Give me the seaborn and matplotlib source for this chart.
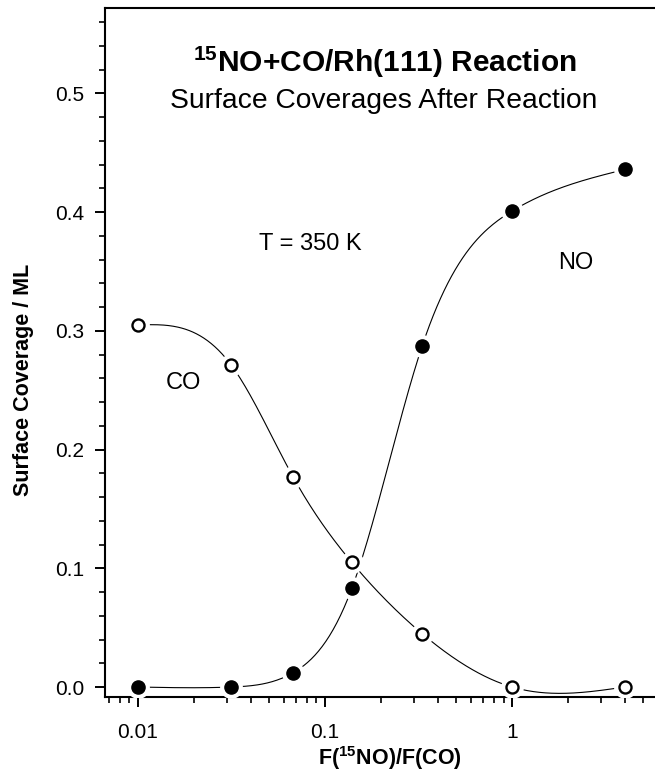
import numpy as np
import pandas as pd
import matplotlib
matplotlib.use("Agg")
import matplotlib.pyplot as plt
import seaborn as sns
from matplotlib.ticker import LogLocator, FixedLocator, MultipleLocator, NullFormatter

# ---- data ----
ratio = [0.01, 0.0316, 0.0675, 0.139, 0.33, 1.0, 4.0]
no_cov = [0.0, 0.0, 0.012, 0.083, 0.287, 0.401, 0.436]
co_cov = [0.305, 0.271, 0.177, 0.105, 0.045, 0.0, 0.0]
x_ticks = [0.01, 0.1, 1]
x_ticklabels = ["0.01", "0.1", "1"]
y_ticks = [0.0, 0.1, 0.2, 0.3, 0.4, 0.5]

sns.set_style("ticks")
plt.rcParams['font.family'] = ['Liberation Sans', 'DejaVu Sans']
plt.rcParams['mathtext.fontset'] = 'custom'
plt.rcParams['mathtext.rm'] = 'Liberation Sans'
plt.rcParams['mathtext.bf'] = 'Liberation Sans:bold'
for key in ['text.color', 'axes.labelcolor', 'xtick.color', 'ytick.color', 'axes.edgecolor']:
    plt.rcParams[key] = 'black'


def natural_spline(x, y, xs):
    x = np.asarray(x, float); y = np.asarray(y, float)
    n = len(x)
    h = np.diff(x)
    A = np.zeros((n, n)); b = np.zeros(n)
    A[0, 0] = 1; A[-1, -1] = 1
    for i in range(1, n - 1):
        A[i, i - 1] = h[i - 1]
        A[i, i] = 2 * (h[i - 1] + h[i])
        A[i, i + 1] = h[i]
        b[i] = 3 * ((y[i + 1] - y[i]) / h[i] - (y[i] - y[i - 1]) / h[i - 1])
    c = np.linalg.solve(A, b)
    out = np.empty_like(xs)
    for k, xv in enumerate(xs):
        i = min(max(np.searchsorted(x, xv) - 1, 0), n - 2)
        bi = (y[i + 1] - y[i]) / h[i] - h[i] * (2 * c[i] + c[i + 1]) / 3
        di = (c[i + 1] - c[i]) / (3 * h[i])
        t = xv - x[i]
        out[k] = y[i] + bi * t + c[i] * t ** 2 + di * t ** 3
    return out


lx = np.log10(ratio)
xs = np.linspace(lx[0], lx[-1], 400)
curve = pd.DataFrame({
    "x": np.concatenate([10 ** xs, 10 ** xs]),
    "y": np.concatenate([natural_spline(lx, no_cov, xs), natural_spline(lx, co_cov, xs)]),
    "s": ["NO"] * len(xs) + ["CO"] * len(xs),
})
pts = pd.DataFrame({"x": ratio + ratio, "y": no_cov + co_cov,
                    "s": ["NO"] * len(ratio) + ["CO"] * len(ratio)})

fig = plt.figure(figsize=(6.55, 7.78), dpi=100)
ax = fig.add_axes([105 / 655, 1 - 697 / 778, 1 - 105 / 655, (697 - 8) / 778])

sns.lineplot(data=curve, x="x", y="y", units="s", estimator=None, color="black",
             lw=0.8, ax=ax, zorder=2, legend=False)
# white halos producing gaps around the markers
ax.scatter(pts["x"], pts["y"], s=270, color="white", zorder=3, linewidths=0)
sns.scatterplot(data=pts[pts.s == "NO"], x="x", y="y", s=90, color="black",
                edgecolor="black", linewidth=1.0, ax=ax, zorder=4, legend=False)
sns.scatterplot(data=pts[pts.s == "CO"], x="x", y="y", s=75, color="white",
                edgecolor="black", linewidth=1.7, ax=ax, zorder=4, legend=False)

ax.set_xscale("log")
ax.set_xlim(0.00667, 5.8)
ax.set_ylim(-0.0084, 0.572)

ax.xaxis.set_major_locator(FixedLocator(x_ticks))
ax.set_xticklabels(x_ticklabels)
ax.xaxis.set_minor_locator(LogLocator(base=10, subs=np.arange(2, 10)))
ax.xaxis.set_minor_formatter(NullFormatter())
ax.yaxis.set_major_locator(FixedLocator(y_ticks))
ax.set_yticklabels([f"{v:.1f}" for v in y_ticks])
ax.yaxis.set_minor_locator(MultipleLocator(0.02))

ax.tick_params(which="major", direction="out", length=7, width=1.4, labelsize=15)
ax.tick_params(which="minor", direction="out", length=4.5, width=1.2)
ax.tick_params(axis="y", which="major", pad=8)
ax.tick_params(axis="x", which="major", pad=12)
for side in ["left", "bottom", "top"]:
    ax.spines[side].set_linewidth(1.5)
ax.spines["right"].set_visible(False)
ax.tick_params(top=False, right=False)

ax.set_xlabel(r"F($\mathbf{^{15}}$NO)/F(CO)", fontsize=15.5, fontweight="bold")
ax.set_ylabel("Surface Coverage / ML", fontsize=15.5, fontweight="bold")
ax.yaxis.label.set_va("center")
ax.xaxis.label.set_va("center")
ax.yaxis.set_label_coords(-0.149, 0.46)
ax.xaxis.set_label_coords(0.518, -0.088)

fig.text(385 / 655, 1 - 62 / 778, r"$\mathbf{^{15}}$NO+CO/Rh(111) Reaction",
         fontsize=21.5, fontweight="bold", ha="center", va="center")
fig.text(384 / 655, 1 - 101 / 778, "Surface Coverages After Reaction",
         fontsize=20.3, ha="center", va="center")
fig.text(310 / 655, 1 - 244 / 778, "T = 350 K", fontsize=17, ha="center", va="center")
fig.text(576 / 655, 1 - 263 / 778, "NO", fontsize=17, ha="center", va="center")
fig.text(183 / 655, 1 - 383 / 778, "CO", fontsize=17, ha="center", va="center")

fig.savefig("out.png", dpi=100)
